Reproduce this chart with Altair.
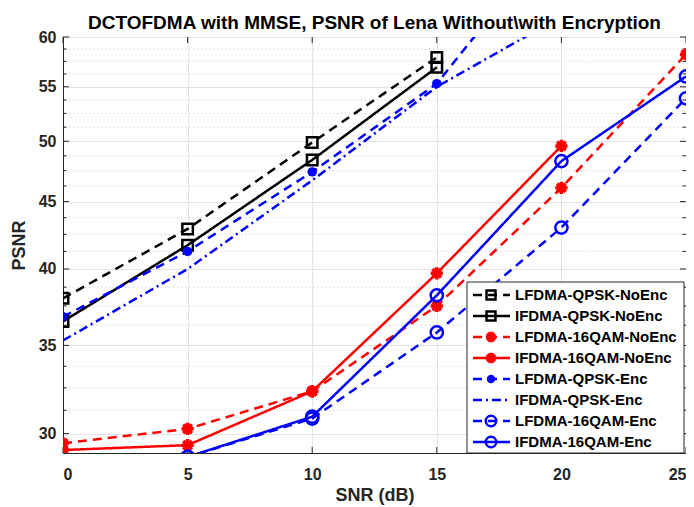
import altair as alt
import pandas as pd

FONT = "Liberation Sans"

snr = [0, 5, 10, 15, 20, 25]
series_names = [
    "LFDMA-QPSK-NoEnc", "IFDMA-QPSK-NoEnc",
    "LFDMA-16QAM-NoEnc", "IFDMA-16QAM-NoEnc",
    "LFDMA-QPSK-Enc", "IFDMA-QPSK-Enc",
    "LFDMA-16QAM-Enc", "IFDMA-16QAM-Enc",
]
lf_qpsk_noenc = [38.0, 42.9, 49.9, 57.9]
if_qpsk_noenc = [36.5, 41.7, 48.4, 56.9]
lf_16qam_noenc = [29.5, 30.25, 32.3, 37.5, 46.1, 58.2]
if_16qam_noenc = [29.15, 29.4, 32.3, 39.7, 49.6]
lf_qpsk_enc = [36.8, 41.25, 47.4, 55.3, 72.6]
if_qpsk_enc = [35.3, 40.0, 46.7, 55.0, 62.2]
lf_16qam_enc = [28.5, 28.8, 30.8, 35.8, 43.0, 53.9]
if_16qam_enc = [28.5, 28.8, 30.9, 38.2, 48.3, 56.0]
series_values = [lf_qpsk_noenc, if_qpsk_noenc, lf_16qam_noenc, if_16qam_noenc,
                 lf_qpsk_enc, if_qpsk_enc, lf_16qam_enc, if_16qam_enc]

colors = ["#000000", "#000000", "#ff0000", "#ff0000",
          "#0000ff", "#0000ff", "#0000ff", "#0000ff"]
dashes = [[9, 6], [1, 0], [9, 6], [1, 0], [9, 6], [9, 4, 2, 4], [9, 6], [1, 0]]
markers = ["square", "square", "asterisk", "asterisk", "dot", "none", "ring", "ring"]

y_ticks = [30, 35, 40, 45, 50, 55, 60]
x_ticks = [0, 5, 10, 15, 20, 25]
minor_y = [31.25, 32.5, 33.75, 36.25, 37.5, 38.75, 41.25, 42.5, 43.75,
           46.25, 47.5, 48.75, 51.25, 52.5, 53.75, 56.25, 57.5, 58.75]

rows = []
for name, vals, mk in zip(series_names, series_values, markers):
    for x, v in zip(snr, vals):
        rows.append({"series": name, "snr": x, "psnr": v, "marker": mk})
df = pd.DataFrame(rows)
legend_df = pd.DataFrame({"series": series_names, "marker": markers})
minor_df = pd.DataFrame({"psnr": minor_y})
major_df = pd.DataFrame({"psnr": y_ticks})
xtick_df = pd.DataFrame({"snr": x_ticks})
box_df = pd.DataFrame({"a": [0]})

W, H = 623, 416
color_scale = alt.Scale(domain=series_names, range=colors)
dash_scale = alt.Scale(domain=series_names, range=dashes)
col = alt.Color("series:N", scale=color_scale, legend=None)
dsh = alt.StrokeDash("series:N", scale=dash_scale, legend=None)

xscale = alt.Scale(domain=[0, 25], nice=False)
yscale = alt.Scale(type="log", domain=[29, 60], nice=False)
X = alt.X("snr:Q", scale=xscale,
          axis=alt.Axis(values=x_ticks, title="SNR (dB)", format="d"))
Y = alt.Y("psnr:Q", scale=yscale,
          axis=alt.Axis(values=y_ticks, title="PSNR", format="d"))
Yn = alt.Y("psnr:Q", scale=yscale, axis=alt.Axis(values=y_ticks, title="PSNR", format="d"))
Xn = alt.X("snr:Q", scale=xscale, axis=alt.Axis(values=x_ticks, title="SNR (dB)", format="d"))

ASTER = "M-1,0L1,0M0,-1L0,1M-0.7,-0.7L0.7,0.7M-0.7,0.7L0.7,-0.7"
TICK = "#262626"

minor_grid = alt.Chart(minor_df).mark_rule(
    color="#c8c8c8", strokeWidth=1, strokeDash=[1, 3]
).encode(y=Yn)

# inward ticks (MATLAB style) on all four sides
ytick_l = alt.Chart(major_df).mark_rule(color=TICK, strokeWidth=1).encode(
    y=Yn, x=alt.value(0), x2=alt.value(6))
ytick_r = alt.Chart(major_df).mark_rule(color=TICK, strokeWidth=1).encode(
    y=Yn, x=alt.value(W - 6), x2=alt.value(W))
ymin_l = alt.Chart(minor_df).mark_rule(color=TICK, strokeWidth=1).encode(
    y=Yn, x=alt.value(0), x2=alt.value(3.5))
ymin_r = alt.Chart(minor_df).mark_rule(color=TICK, strokeWidth=1).encode(
    y=Yn, x=alt.value(W - 3.5), x2=alt.value(W))
xtick_b = alt.Chart(xtick_df).mark_rule(color=TICK, strokeWidth=1).encode(
    x=Xn, y=alt.value(H - 6), y2=alt.value(H))
xtick_t = alt.Chart(xtick_df).mark_rule(color=TICK, strokeWidth=1).encode(
    x=Xn, y=alt.value(0), y2=alt.value(6))

lines = alt.Chart(df).mark_line(strokeWidth=2.5, clip=True).encode(
    x=X, y=Y, color=col, strokeDash=dsh, detail="series:N")

base_pts = alt.Chart(df).encode(x=X, y=Y, color=col)
pts_sq = base_pts.transform_filter(alt.datum.marker == "square").mark_point(
    shape="square", filled=False, size=110, strokeWidth=2.5, opacity=1, clip=True)
pts_as = base_pts.transform_filter(alt.datum.marker == "asterisk").mark_point(
    shape=ASTER, filled=False, size=150, strokeWidth=3.5, opacity=1, clip=True)
pts_dot = base_pts.transform_filter(alt.datum.marker == "dot").mark_point(
    shape="circle", filled=True, size=90, opacity=1, clip=True)
pts_ring = base_pts.transform_filter(alt.datum.marker == "ring").mark_point(
    shape="circle", filled=False, size=150, strokeWidth=2.5, opacity=1, clip=True)

main = alt.layer(minor_grid, ytick_l, ytick_r, ymin_l, ymin_r, xtick_b, xtick_t,
                 lines, pts_sq, pts_as, pts_dot, pts_ring)

# in-plot legend
LY = alt.Y("series:N", scale=alt.Scale(type="point", domain=series_names,
                                        range=[258, 405], padding=0), axis=None)
box = alt.Chart(box_df).mark_rect(fill="white", stroke="#262626", strokeWidth=1).encode(
    x=alt.value(404), x2=alt.value(621), y=alt.value(245), y2=alt.value(416))
leg_lines = alt.Chart(legend_df).mark_rule(strokeWidth=2.5).encode(
    x=alt.value(410), x2=alt.value(447), y=LY, color=col, strokeDash=dsh)
leg_base = alt.Chart(legend_df).encode(x=alt.value(428), y=LY, color=col)
leg_sq = leg_base.transform_filter(alt.datum.marker == "square").mark_point(
    shape="square", filled=False, size=80, strokeWidth=2.5, opacity=1)
leg_as = leg_base.transform_filter(alt.datum.marker == "asterisk").mark_point(
    shape=ASTER, filled=False, size=110, strokeWidth=3.5, opacity=1)
leg_dot = leg_base.transform_filter(alt.datum.marker == "dot").mark_point(
    shape="circle", filled=True, size=70, opacity=1)
leg_ring = leg_base.transform_filter(alt.datum.marker == "ring").mark_point(
    shape="circle", filled=False, size=110, strokeWidth=2.5, opacity=1)
leg_text = alt.Chart(legend_df).mark_text(
    align="left", baseline="middle", font=FONT, fontSize=15, fontWeight="bold", color="#000000"
).encode(x=alt.value(452), y=LY, text="series:N")

legend = alt.layer(box, leg_lines, leg_sq, leg_as, leg_dot, leg_ring, leg_text)

chart = alt.layer(main, legend).resolve_scale(y="independent").properties(
    width=W, height=H,
    autosize=alt.AutoSizeParams(type="none"),
    padding={"left": 55, "top": 29, "right": 0, "bottom": 60},
    title=alt.Title("DCTOFDMA with MMSE, PSNR of Lena Without\\with Encryption",
                    font=FONT, fontSize=19, fontWeight="bold", color="#000000",
                    anchor="middle", offset=-4),
).configure_view(stroke="#262626", strokeWidth=1).configure_axis(
    labelFont=FONT, labelFontSize=16, labelFontWeight="bold", labelColor="#262626",
    titleFont=FONT, titleFontSize=18, titleFontWeight="bold", titleColor="#262626",
    gridColor="#e3e3e3", gridWidth=1, domainColor="#262626", ticks=False,
).configure_axisX(labelPadding=13, titlePadding=4).configure_axisY(labelPadding=7, titlePadding=10)

chart.save("out.html", embed_options={"renderer": "svg", "actions": False})
